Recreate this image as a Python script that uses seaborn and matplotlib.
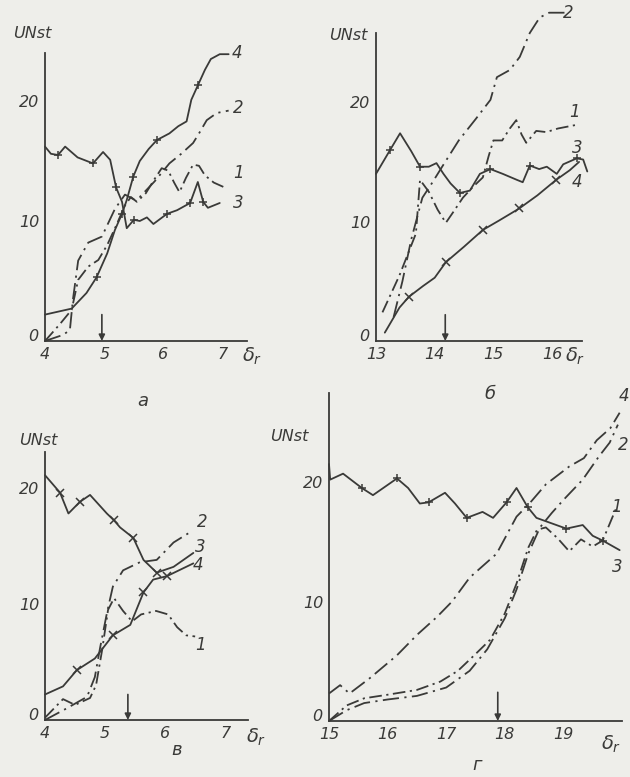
import numpy as np
import pandas as pd
import matplotlib
matplotlib.use("Agg")
import matplotlib.pyplot as plt
import matplotlib.transforms as mtransforms
import seaborn as sns

sns.set_theme(style="white")
plt.rcParams["font.family"] = ["DejaVu Sans"]
plt.rcParams["mathtext.fontset"] = "dejavusans"

INK = "#3a3a38"
PAPER = "#eeeeea"

# ---------------- panel а ----------------
a1_x = [4.0, 4.25, 4.45, 4.56, 4.73, 4.9, 5.05, 5.2, 5.35, 5.45, 5.55, 5.7, 5.85, 5.97, 6.08, 6.18, 6.27, 6.38, 6.5, 6.6, 6.7, 6.85, 7.03]
a1_y = [0.0, 1.4, 2.6, 5.1, 6.2, 6.75, 8.0, 9.6, 11.3, 12.0, 11.6, 12.3, 13.5, 14.4, 14.2, 13.2, 12.4, 13.6, 14.7, 14.6, 13.8, 13.2, 12.8]
a2_x = [4.0, 4.3, 4.42, 4.47, 4.56, 4.73, 4.96, 5.18, 5.35, 5.5, 5.6, 5.85, 6.1, 6.3, 6.5, 6.6, 6.73, 6.9, 7.1]
a2_y = [0.0, 0.5, 0.9, 3.4, 6.7, 8.2, 8.7, 11.0, 12.2, 11.8, 12.0, 13.3, 14.8, 15.6, 16.5, 17.3, 18.4, 19.0, 19.2]
a3_x = [4.0, 4.1, 4.22, 4.34, 4.55, 4.81, 4.98, 5.1, 5.2, 5.3, 5.38, 5.5, 5.6, 5.72, 5.83, 6.06, 6.23, 6.45, 6.58, 6.67, 6.75, 6.95]
a3_y = [16.2, 15.6, 15.5, 16.2, 15.3, 14.8, 15.75, 15.1, 12.8, 11.6, 9.4, 10.1, 10.0, 10.3, 9.75, 10.6, 10.9, 11.5, 13.25, 11.6, 11.1, 11.5]
a4_x = [4.0, 4.45, 4.7, 4.87, 5.05, 5.18, 5.3, 5.38, 5.49, 5.6, 5.75, 5.89, 6.1, 6.25, 6.39, 6.47, 6.58, 6.7, 6.8, 6.95, 7.1]
a4_y = [2.2, 2.7, 4.0, 5.3, 7.3, 9.25, 10.6, 11.75, 13.7, 15.0, 16.0, 16.75, 17.3, 17.9, 18.3, 20.1, 21.3, 22.6, 23.5, 23.9, 23.9]

# ---------------- panel б ----------------
b1_x = [13.11, 13.4, 13.68, 13.75, 13.9, 14.05, 14.19, 14.33, 14.48, 14.65, 14.82, 14.92, 15.0, 15.15, 15.28, 15.39, 15.48, 15.56, 15.73, 15.9, 16.1, 16.41]
b1_y = [2.4, 5.5, 9.0, 13.5, 12.5, 11.0, 9.9, 10.9, 12.0, 12.9, 13.7, 15.5, 16.8, 16.8, 17.8, 18.5, 17.3, 16.6, 17.6, 17.5, 17.8, 18.1]
b2_x = [13.3, 13.45, 13.6, 13.79, 13.95, 14.14, 14.41, 14.7, 14.95, 15.06, 15.28, 15.45, 15.62, 15.79, 15.95, 16.3]
b2_y = [2.0, 5.0, 8.5, 12.0, 13.2, 14.7, 16.8, 18.6, 20.2, 22.1, 22.7, 23.8, 25.8, 27.1, 27.5, 27.5]
b3_x = [13.0, 13.24, 13.41, 13.6, 13.75, 13.9, 14.03, 14.15, 14.27, 14.43, 14.6, 14.77, 14.95, 15.16, 15.4, 15.5, 15.62, 15.78, 15.91, 16.08, 16.19, 16.42, 16.53, 16.6]
b3_y = [14.0, 16.0, 17.4, 15.9, 14.6, 14.6, 14.9, 14.0, 13.2, 12.4, 12.6, 14.0, 14.4, 14.0, 13.5, 13.3, 14.7, 14.4, 14.6, 14.0, 14.8, 15.3, 15.2, 14.2]
b4_x = [13.15, 13.4, 13.56, 13.8, 14.0, 14.19, 14.5, 14.82, 15.1, 15.44, 15.75, 16.07, 16.3, 16.46]
b4_y = [0.7, 2.8, 3.7, 4.6, 5.3, 6.6, 7.9, 9.3, 10.1, 11.1, 12.2, 13.5, 14.3, 15.0]

# ---------------- panel в ----------------
c1_x = [4.0, 4.3, 4.5, 4.75, 4.85, 4.95, 5.05, 5.15, 5.3, 5.45, 5.6, 5.85, 6.05, 6.2, 6.35, 6.5]
c1_y = [0.2, 1.8, 1.3, 1.9, 3.0, 6.0, 9.5, 10.5, 9.4, 8.5, 9.1, 9.4, 9.1, 8.0, 7.3, 7.2]
c2_x = [4.0, 4.36, 4.7, 4.83, 4.92, 5.03, 5.13, 5.3, 5.58, 5.86, 6.14, 6.42]
c2_y = [0.0, 1.0, 2.0, 3.7, 6.3, 9.2, 11.5, 12.9, 13.6, 13.8, 15.3, 16.2]
c3_x = [4.0, 4.25, 4.39, 4.58, 4.75, 5.03, 5.15, 5.25, 5.47, 5.64, 5.86, 6.14, 6.47]
c3_y = [21.1, 19.6, 17.8, 18.8, 19.4, 17.8, 17.2, 16.6, 15.7, 13.8, 12.7, 13.2, 14.4]
c4_x = [4.0, 4.3, 4.53, 4.83, 5.13, 5.42, 5.64, 5.8, 6.03, 6.47]
c4_y = [2.2, 2.9, 4.3, 5.3, 7.3, 8.2, 11.0, 12.1, 12.4, 13.5]

# ---------------- panel г ----------------
d1_x = [15.0, 15.3, 15.6, 16.0, 16.5, 16.9, 17.2, 17.5, 17.75, 18.0, 18.2, 18.4, 18.55, 18.7, 18.9, 19.1, 19.3, 19.5, 19.67, 19.9]
d1_y = [0.0, 1.3, 1.9, 2.2, 2.6, 3.3, 4.2, 5.6, 6.8, 9.0, 11.5, 14.5, 16.0, 16.2, 15.3, 14.2, 15.2, 14.6, 15.1, 17.8]
d2_x = [15.0, 15.3, 15.6, 16.0, 16.5, 17.0, 17.4, 17.7, 18.0, 18.2, 18.4, 18.6, 18.8, 19.0, 19.33, 19.6, 19.79, 19.93]
d2_y = [0.0, 0.9, 1.5, 1.8, 2.1, 2.8, 4.2, 6.0, 8.6, 11.0, 14.0, 16.2, 17.4, 18.5, 20.2, 22.1, 23.3, 24.8]
d3_x = [15.0, 15.02, 15.24, 15.56, 15.75, 16.16, 16.35, 16.55, 16.7, 16.98, 17.15, 17.35, 17.62, 17.8, 18.03, 18.2, 18.39, 18.54, 18.71, 19.05, 19.33, 19.5, 19.67, 19.96]
d3_y = [21.5, 20.2, 20.7, 19.5, 18.9, 20.3, 19.5, 18.2, 18.3, 19.1, 18.2, 17.0, 17.5, 17.0, 18.3, 19.5, 17.9, 17.0, 16.7, 16.1, 16.4, 15.5, 15.1, 14.3]
d4_x = [15.0, 15.19, 15.35, 15.7, 16.16, 16.5, 16.84, 17.1, 17.4, 17.86, 18.2, 18.42, 18.7, 19.1, 19.35, 19.57, 19.8, 19.96]
d4_y = [2.3, 3.0, 2.3, 3.6, 5.5, 7.2, 8.7, 10.0, 12.0, 14.0, 17.1, 18.2, 19.8, 21.3, 22.0, 23.5, 24.5, 25.8]

# arrow positions on the δr axis
arrow_x = [4.96, 14.18, 5.38, 17.88]

# tick labels
xticks_a = [4, 5, 6, 7]
xticks_b = [13, 14, 15, 16]
xticks_c = [4, 5, 6, 7]
xticks_d = [15, 16, 17, 18, 19, 20]
xticklabels_d = ["15", "16", "17", "18", "19", ""]
yticks = [0, 10, 20]
panel_names = ["а", "б", "в", "г"]

W, H = 630, 777
fig = plt.figure(figsize=(W / 100, H / 100), dpi=100)
fig.patch.set_facecolor(PAPER)


def rect(left, top, right, bottom):
    return [left / W, 1 - bottom / H, (right - left) / W, (bottom - top) / H]


def ftext(X, Y, s, **kw):
    fig.text(X / W, 1 - Y / H, s, color=INK, style="italic", **kw)


DASH1 = (0, (7, 2.5, 1.2, 2.5))
DASH2 = (0, (9, 3, 1.2, 3))

specs = [
    dict(rect=rect(45, 53, 247, 341), xlim=(4, 7.41), ylim=(0, 24.0), xticks=xticks_a, xlabels=None,
         curves=[(a1_x, a1_y, DASH1, None, None), (a2_x, a2_y, DASH2, None, None),
                 (a3_x, a3_y, "-", "+", [2, 5, 8, 11, 15, 17, 19]),
                 (a4_x, a4_y, "-", "+", [3, 6, 8, 11, 16])]),
    dict(rect=rect(376, 33, 582, 341), xlim=(13, 16.51), ylim=(0, 25.8), xticks=xticks_b, xlabels=None,
         curves=[(b1_x, b1_y, DASH1, None, None), (b2_x, b2_y, DASH2, None, None),
                 (b3_x, b3_y, "-", "+", [1, 4, 9, 12, 16, 21]),
                 (b4_x, b4_y, "-", "x", [2, 5, 7, 9, 11])]),
    dict(rect=rect(45, 452, 248, 720), xlim=(4, 7.38), ylim=(0, 23.1), xticks=xticks_c, xlabels=None,
         curves=[(c1_x, c1_y, DASH1, None, None), (c2_x, c2_y, DASH2, None, None),
                 (c3_x, c3_y, "-", "x", [1, 3, 6, 8, 10]),
                 (c4_x, c4_y, "-", "x", [2, 4, 6, 8])]),
    dict(rect=rect(329, 393, 622, 721), xlim=(15, 19.99), ylim=(0, 27.45), xticks=xticks_d, xlabels=xticklabels_d,
         curves=[(d1_x, d1_y, DASH1, None, None), (d2_x, d2_y, DASH2, None, None),
                 (d3_x, d3_y, "-", "+", [3, 5, 8, 11, 14, 16, 19, 22]),
                 (d4_x, d4_y, DASH2, None, None)]),
]

# nudge for the "0" label so it sits just above the origin
zero_shift = mtransforms.ScaledTranslation(-1 / 72, 4 / 72, fig.dpi_scale_trans)

axes = []
for k, sp in enumerate(specs):
    ax = fig.add_axes(sp["rect"])
    ax.set_facecolor("none")
    for i, (xs, ys, ls, mk, mev) in enumerate(sp["curves"]):
        df = pd.DataFrame({"x": xs, "y": ys})
        sns.lineplot(data=df, x="x", y="y", ax=ax, sort=False, estimator=None,
                     color=INK, linewidth=1.3, linestyle=ls,
                     marker=mk if mk else "", markevery=mev, markersize=6,
                     markeredgewidth=1.1, markeredgecolor=INK, clip_on=False)
    ax.set_xlim(*sp["xlim"])
    ax.set_ylim(*sp["ylim"])
    ax.set_xlabel("")
    ax.set_ylabel("")
    for s in ["top", "right"]:
        ax.spines[s].set_visible(False)
    for s in ["left", "bottom"]:
        ax.spines[s].set_color(INK)
        ax.spines[s].set_linewidth(1.3)
    ax.set_xticks(sp["xticks"])
    if sp["xlabels"] is not None:
        ax.set_xticklabels(sp["xlabels"])
    ax.set_yticks(yticks)
    ax.tick_params(direction="in", length=8, width=1.2, color=INK, labelcolor=INK,
                   labelsize=11.5)
    ax.tick_params(axis="x", pad=4)
    ax.tick_params(axis="y", pad=4)
    for lab in ax.get_xticklabels() + ax.get_yticklabels():
        lab.set_style("italic")
    ylabs = ax.get_yticklabels()
    ylabs[0].set_transform(ylabs[0].get_transform() + zero_shift)
    ax.grid(False)
    ax.annotate("", xy=(arrow_x[k], 0), xytext=(arrow_x[k], 2.2 if k != 3 else 2.4),
                arrowprops=dict(arrowstyle="-|>", color=INK, lw=1.2, mutation_scale=9,
                                shrinkA=0, shrinkB=0))
    axes.append(ax)

# axis titles
for X, Y in [(32, 33), (348, 36), (38, 440), (289, 437)]:
    ftext(X, Y, "UNst", fontsize=11.5, ha="center", va="center")
for X, Y in [(252, 356), (575, 356), (256, 737), (611, 744)]:
    ftext(X, Y, r"$\delta_r$", fontsize=14, ha="center", va="center")

# panel letters
for (X, Y), s in zip([(143, 401), (490, 394), (177, 750), (477, 765)], panel_names):
    ftext(X, Y, s, fontsize=13, ha="center", va="center")

# curve numbers
curve_nums = [
    [(237, 53, "4"), (238, 108, "2"), (238, 173, "1"), (238, 203, "3")],
    [(568, 13, "2"), (575, 112, "1"), (577, 148, "3"), (577, 182, "4")],
    [(202, 522, "2"), (200, 547, "3"), (198, 565, "4"), (200, 645, "1")],
    [(624, 396, "4"), (623, 445, "2"), (617, 507, "1"), (617, 567, "3")],
]
for group in curve_nums:
    for X, Y, s in group:
        ftext(X, Y, s, fontsize=12, ha="center", va="center")

fig.savefig("out.png", dpi=100, facecolor=PAPER)
